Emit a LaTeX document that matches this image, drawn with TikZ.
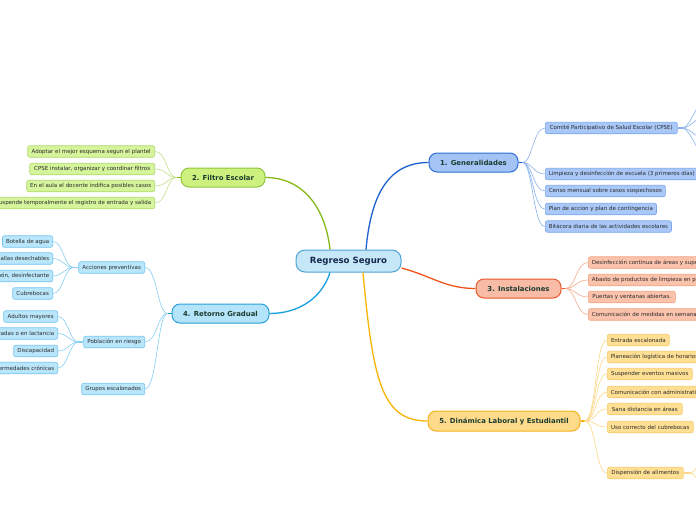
\documentclass[tikz,border=0pt]{standalone}
\usepackage{fontspec}
\setmainfont{DejaVu Sans}
\usetikzlibrary{calc}
\definecolor{cenF}{HTML}{C5E7F8}\definecolor{cenB}{HTML}{4BA3D6}\definecolor{cenT}{HTML}{15284B}
\definecolor{brT}{HTML}{1C3C30}\definecolor{chT}{HTML}{2A2A2A}
\definecolor{genF}{HTML}{A3C4F5}\definecolor{genB}{HTML}{2E6ED6}\definecolor{genL}{HTML}{1E62D0}
\definecolor{genC}{HTML}{8AB2EE}\definecolor{genCF}{HTML}{A9C8F7}\definecolor{genCB}{HTML}{7CA7EC}
\definecolor{filF}{HTML}{CDF07E}\definecolor{filB}{HTML}{8EC63F}\definecolor{filL}{HTML}{86B817}
\definecolor{filC}{HTML}{C2E08A}\definecolor{filCF}{HTML}{D5F49B}\definecolor{filCB}{HTML}{AEDA6C}
\definecolor{insF}{HTML}{F8BBA6}\definecolor{insB}{HTML}{E95A2C}\definecolor{insL}{HTML}{F0531C}
\definecolor{insC}{HTML}{F6AC8E}\definecolor{insCF}{HTML}{FBC2AC}\definecolor{insCB}{HTML}{F2A184}
\definecolor{retF}{HTML}{B4E4F9}\definecolor{retB}{HTML}{2A9FDA}\definecolor{retL}{HTML}{189FE0}
\definecolor{retC}{HTML}{86CEF2}\definecolor{retCF}{HTML}{B9E6FA}\definecolor{retCB}{HTML}{74C5EE}
\definecolor{dinF}{HTML}{FDDB8B}\definecolor{dinB}{HTML}{F4B41F}\definecolor{dinL}{HTML}{F6B500}
\definecolor{dinC}{HTML}{FCD98A}\definecolor{dinCF}{HTML}{FEDF94}\definecolor{dinCB}{HTML}{F7CB6B}
\begin{document}
\begin{tikzpicture}[x=1pt,y=-1pt,
  cenbox/.style={draw=cenB,fill=cenF,text=cenT,rounded corners=9pt,line width=1pt,
    minimum width=105pt,minimum height=22pt,inner sep=0pt,font=\fontsize{8.6}{10}\selectfont\bfseries},
  brbox/.style={rounded corners=8pt,line width=1pt,text=brT,minimum height=19pt,inner xsep=4pt,inner ysep=0pt,
    font=\fontsize{6.9}{8}\selectfont\bfseries},
  chbox/.style={rounded corners=2pt,line width=0.6pt,text=chT,minimum height=11.5pt,inner xsep=3.5pt,inner ysep=0pt,
    font=\fontsize{5.5}{6.5}\selectfont},
  genbr/.style={brbox,draw=genB,fill=genF}, gench/.style={chbox,draw=genCB,fill=genCF},
  filbr/.style={brbox,draw=filB,fill=filF}, filch/.style={chbox,draw=filCB,fill=filCF},
  insbr/.style={brbox,draw=insB,fill=insF}, insch/.style={chbox,draw=insCB,fill=insCF},
  retbr/.style={brbox,draw=retB,fill=retF}, retch/.style={chbox,draw=retCB,fill=retCF},
  dinbr/.style={brbox,draw=dinB,fill=dinF}, dinch/.style={chbox,draw=dinCB,fill=dinCF},
  mainline/.style={line width=1.3pt},
  stub/.style={line width=1.6pt},
  subline/.style={line width=0.6pt}]
\useasboundingbox (0,0) rectangle (696,520);
\fill[white] (0,0) rectangle (696,520);
\clip (0,0) rectangle (696,520);

% central
\node[cenbox] (c) at (348.5,261) {Regreso Seguro};

% branches
\node[genbr,minimum width=89pt] (g) at (473.5,162.5) {1. Generalidades};
\node[filbr,minimum width=84pt] (f) at (223,177.5) {2. Filtro Escolar};
\node[insbr,minimum width=85pt] (i) at (518.5,288.5) {3. Instalaciones};
\node[retbr,minimum width=97pt] (r) at (220.5,313.5) {4. Retorno Gradual};
\node[dinbr,minimum width=152pt,minimum height=20pt] (d) at (504,421) {5. Dinámica Laboral y Estudiantil};

% main lines
\draw[mainline,genL] ([xshift=17.5pt]c.north) .. controls +(5,-55) and +(-40,0) .. (g.west);
\draw[mainline,filL] ([xshift=-18.5pt]c.north) .. controls +(-5,-45) and +(35,0) .. (f.east);
\draw[mainline,insL] ([yshift=-7pt]c.east) .. controls +(30,8) and +(-30,0) .. (i.west);
\draw[mainline,retL] ([xshift=-18.5pt]c.south) .. controls +(-8,25) and +(30,0) .. (r.east);
\draw[mainline,dinL] ([xshift=14.5pt]c.south) .. controls +(10,110) and +(-45,0) .. (d.west);

% 1. Generalidades children
\node[gench,anchor=west,minimum width=132pt] (g1) at (545,128) {Comité Participativo de Salud Escolar (CPSE)};
\node[gench,anchor=west,minimum width=150pt] (g2) at (545,174) {Limpieza y desinfección de escuela (3 primeros días)};
\node[gench,anchor=west,minimum width=120pt] (g3) at (545,191) {Censo mensual sobre casos sospechosos};
\node[gench,anchor=west,minimum width=111pt] (g4) at (545,209) {Plan de accion y plan de contingencia};
\node[gench,anchor=west,minimum width=126pt] (g5) at (545,226.5) {Bitácora diaria de las actividades escolares};
\draw[stub,genL] (g.east) -- ++(4,0) coordinate (gE);
\foreach \n in {g1,g2,g3,g4,g5}
  \draw[subline,genC] (gE) .. controls +(10,0) and +(-12,0) .. (\n.west);
% CPSE children (off the picture)
\draw[stub,genC] (g1.east) -- ++(5,0) coordinate (g1E);
\coordinate (g1a) at (712,90);
\coordinate (g1b) at (712,112);
\coordinate (g1c) at (712,143);
\coordinate (g1d) at (712,165);
\foreach \n in {g1a,g1b,g1c,g1d}
  \draw[subline,genC] (g1E) .. controls +(8,0) and +(-10,0) .. (\n);

% 2. Filtro Escolar children
\node[filch,anchor=east,minimum width=127pt] (f1) at (155,151.5) {Adoptar el mejor esquema segun el plantel};
\node[filch,anchor=east,minimum width=125pt] (f2) at (155,169) {CPSE instalar, organizar y coordinar filtros};
\node[filch,anchor=east,minimum width=128pt] (f3) at (155,186) {En el aula el docente indifica posibles casos};
\node[filch,anchor=east] (f4) at (155,203) {Se suspende temporalmente el registro de entrada y salida};
\draw[stub,filL] (f.west) -- ++(-4,0) coordinate (fW);
\foreach \n in {f1,f2,f3,f4}
  \draw[subline,filC] (fW) .. controls +(-10,0) and +(12,0) .. (\n.east);

% 3. Instalaciones children
\node[insch,anchor=west] (i1) at (588,262.5) {Desinfección continua de áreas y superficies};
\node[insch,anchor=west] (i2) at (588,280) {Abasto de productos de limpieza en planteles};
\node[insch,anchor=west,minimum width=87pt] (i3) at (588,297) {Puertas y ventanas abiertas.};
\node[insch,anchor=west] (i4) at (588,314.5) {Comunicación de medidas en semana previa};
\draw[stub,insL] (i.east) -- ++(4,0) coordinate (iE);
\foreach \n in {i1,i2,i3,i4}
  \draw[subline,insC] (iE) .. controls +(10,0) and +(-12,0) .. (\n.west);

% 4. Retorno Gradual children
\node[retch,anchor=east,minimum width=66pt] (r1) at (145,267.5) {Acciones preventivas};
\node[retch,anchor=east,minimum width=61pt] (r2) at (145,342) {Población en riesgo};
\node[retch,anchor=east,minimum width=63pt] (r3) at (145,389) {Grupos escalonados};
\draw[stub,retL] (r.west) -- ++(-4,0) coordinate (rW);
\foreach \n in {r1,r2,r3}
  \draw[subline,retC] (rW) .. controls +(-10,0) and +(12,0) .. (\n.east);
\node[retch,anchor=east,minimum width=50pt] (r11) at (53,241.5) {Botella de agua};
\node[retch,anchor=east] (r12) at (53,258.5) {Toallas desechables};
\node[retch,anchor=east] (r13) at (53,276) {Jabón, desinfectante};
\node[retch,anchor=east,minimum width=40pt] (r14) at (53,293.5) {Cubrebocas};
\draw[stub,retC] (r1.west) -- ++(-5,0) coordinate (r1W);
\foreach \n in {r11,r12,r13,r14}
  \draw[subline,retC] (r1W) .. controls +(-9,0) and +(10,0) .. (\n.east);
\node[retch,anchor=east,minimum width=54pt] (r21) at (58,316.5) {Adultos mayores};
\node[retch,anchor=east] (r22) at (58,333.5) {Embarazadas o en lactancia};
\node[retch,anchor=east,minimum width=44pt] (r23) at (58,351) {Discapacidad};
\node[retch,anchor=east] (r24) at (58,368) {Enfermedades crónicas};
\draw[stub,retC] (r2.west) -- ++(-5,0) coordinate (r2W);
\foreach \n in {r21,r22,r23,r24}
  \draw[subline,retC] (r2W) .. controls +(-9,0) and +(10,0) .. (\n.east);

% 5. Dinamica children
\node[dinch,anchor=west,minimum width=62pt] (d1) at (607,340) {Entrada escalonada};
\node[dinch,anchor=west] (d2) at (607,357) {Planeación logística de horarios};
\node[dinch,anchor=west,minimum width=85pt] (d3) at (607,374) {Suspender eventos masivos};
\node[dinch,anchor=west] (d4) at (607,392) {Comunicación con administrativos};
\node[dinch,anchor=west,minimum width=75pt] (d5) at (607,409) {Sana distancia en áreas};
\node[dinch,anchor=west,minimum width=86pt] (d6) at (607,427) {Uso correcto del cubrebocas};
\node[dinch,anchor=west,minimum width=76pt] (d7) at (607,473) {Dispensión de alimentos};
\draw[stub,dinL] (d.east) -- ++(4,0) coordinate (dE);
\foreach \n in {d1,d2,d3,d4,d5,d6,d7}
  \draw[subline,dinC] (dE) .. controls +(12,0) and +(-12,0) .. (\n.west);
\draw[stub,dinC] (d7.east) -- ++(6,0) coordinate (d7E);
\coordinate (d7a) at (712,452);
\coordinate (d7b) at (712,494);
\foreach \n in {d7a,d7b}
  \draw[subline,dinC] (d7E) .. controls +(8,0) and +(-10,0) .. (\n);
\end{tikzpicture}
\end{document}
